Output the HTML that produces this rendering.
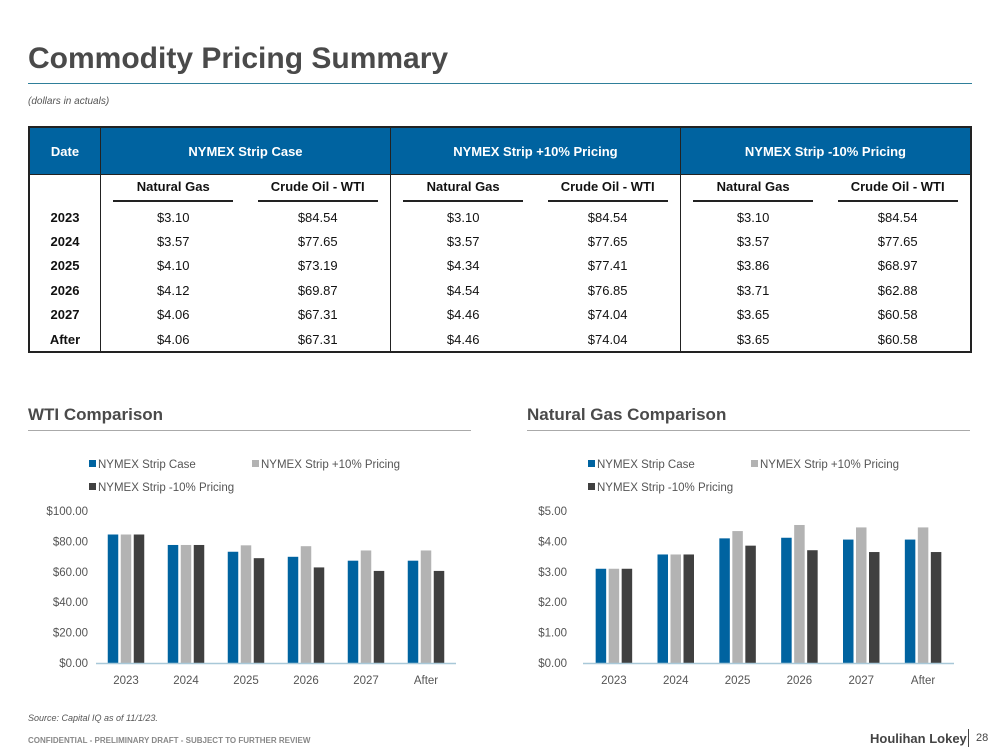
<!DOCTYPE html>
<html><head><meta charset="utf-8"><style>
body{margin:0;width:999px;height:750px;background:#fff;font-family:"Liberation Sans",sans-serif;position:relative;overflow:hidden}
.abs{position:absolute}
table{border-collapse:collapse;position:absolute;left:28px;top:126px;width:944px;font-size:13px}
th{background:#0063a0;color:#fff;font-weight:bold;height:44px;border:1px solid #222;font-size:13px}
td{text-align:center;height:24.4px;padding:0;font-family:"Liberation Sans",sans-serif;font-size:13px;color:#111}
td.y{font-weight:bold}
.sub td{font-family:"Liberation Sans",sans-serif;font-weight:bold;height:30px;font-size:13px}
.sub span{display:inline-block;width:120px;border-bottom:2px solid #222;padding-bottom:6px}
.bl{border-left:1px solid #222}
</style></head><body>
<div class="abs" style="left:28px;top:42px;font-size:30px;font-weight:bold;color:#4a4a4a">Commodity Pricing Summary</div>
<div class="abs" style="left:28px;top:83px;width:944px;height:1px;background:#2f7f9a"></div>
<div class="abs" style="left:28px;top:96px;font-size:10px;font-style:italic;color:#555">(dollars in actuals)</div>
<table style="border:2px solid #222">
<tr><th style="width:68px">Date</th><th colspan="2">NYMEX Strip Case</th><th colspan="2">NYMEX Strip +10% Pricing</th><th colspan="2">NYMEX Strip -10% Pricing</th></tr>
<tr class="sub"><td></td><td class="bl"><span>Natural Gas</span></td><td><span>Crude Oil - WTI</span></td><td class="bl"><span>Natural Gas</span></td><td><span>Crude Oil - WTI</span></td><td class="bl"><span>Natural Gas</span></td><td><span>Crude Oil - WTI</span></td></tr>
<tr><td class="y">2023</td><td class="bl">$3.10</td><td>$84.54</td><td class="bl">$3.10</td><td>$84.54</td><td class="bl">$3.10</td><td>$84.54</td></tr>
<tr><td class="y">2024</td><td class="bl">$3.57</td><td>$77.65</td><td class="bl">$3.57</td><td>$77.65</td><td class="bl">$3.57</td><td>$77.65</td></tr>
<tr><td class="y">2025</td><td class="bl">$4.10</td><td>$73.19</td><td class="bl">$4.34</td><td>$77.41</td><td class="bl">$3.86</td><td>$68.97</td></tr>
<tr><td class="y">2026</td><td class="bl">$4.12</td><td>$69.87</td><td class="bl">$4.54</td><td>$76.85</td><td class="bl">$3.71</td><td>$62.88</td></tr>
<tr><td class="y">2027</td><td class="bl">$4.06</td><td>$67.31</td><td class="bl">$4.46</td><td>$74.04</td><td class="bl">$3.65</td><td>$60.58</td></tr>
<tr><td class="y">After</td><td class="bl">$4.06</td><td>$67.31</td><td class="bl">$4.46</td><td>$74.04</td><td class="bl">$3.65</td><td>$60.58</td></tr>
</table>
<div class="abs" style="left:28px;top:405px;font-size:17px;font-weight:bold;color:#4a4a4a">WTI Comparison</div>
<div class="abs" style="left:28px;top:430px;width:443px;height:1px;background:#aaa"></div>
<div class="abs" style="left:527px;top:405px;font-size:17px;font-weight:bold;color:#4a4a4a">Natural Gas Comparison</div>
<div class="abs" style="left:527px;top:430px;width:443px;height:1px;background:#aaa"></div>
<svg id="ch" class="abs" style="left:0;top:0" width="999" height="750"></svg>
<div class="abs" style="left:28px;top:713px;font-size:9px;font-style:italic;color:#555">Source: Capital IQ as of 11/1/23.</div>
<div class="abs" style="left:28px;top:736px;font-size:8px;font-weight:bold;color:#888">CONFIDENTIAL - PRELIMINARY DRAFT - SUBJECT TO FURTHER REVIEW</div>
<div class="abs" style="left:870px;top:731px;font-size:13px;font-weight:bold;color:#444">Houlihan Lokey</div>
<div class="abs" style="left:968px;top:729px;width:1px;height:18px;background:#444"></div>
<div class="abs" style="left:976px;top:732px;font-size:11px;color:#444">28</div>
<script>
const categories=["2023","2024","2025","2026","2027","After"];
const seriesNames=["NYMEX Strip Case","NYMEX Strip +10% Pricing","NYMEX Strip -10% Pricing"];
const wtiBase=[84.54,77.65,73.19,69.87,67.31,67.31];
const wtiUp=[84.54,77.65,77.41,76.85,74.04,74.04];
const wtiDown=[84.54,77.65,68.97,62.88,60.58,60.58];
const gasBase=[3.10,3.57,4.10,4.12,4.06,4.06];
const gasUp=[3.10,3.57,4.34,4.54,4.46,4.46];
const gasDown=[3.10,3.57,3.86,3.71,3.65,3.65];
const wtiTicks=[0,20,40,60,80,100];
const gasTicks=[0,1,2,3,4,5];
const colors=["#0063a0","#b3b3b3","#404040"];
const svg=document.getElementById('ch');
const NS="http://www.w3.org/2000/svg";
function mk(t,a){const e=document.createElementNS(NS,t);for(const k in a)e.setAttribute(k,a[k]);svg.appendChild(e);return e;}
function chart(prefix,x0,x1,max,ticks,series,legX,labX){
  const y0=663,y1=511;
  const Y=v=>y0-(v/max)*(y0-y1);
  const step=(x1-x0)/categories.length;
  const X=i=>x0+step*(i+0.5);
  ticks.forEach(t=>{
    const tx=mk('text',{x:labX,y:Y(t)+4,'text-anchor':'end','font-size':'11.5',fill:'#555','font-family':'Liberation Sans, sans-serif'});
    tx.textContent='$'+t.toFixed(2);
    
    
  });
  const bw=10.5,gap=2.5;
  series.forEach((s,si)=>{
    s.forEach((v,i)=>{
      const cx=X(i)+(si-1)*(bw+gap);
      const r=mk('rect',{x:cx-bw/2,y:Y(v),width:bw,height:y0-Y(v),fill:colors[si]});
      
      
    });
  });
  const ax=mk('line',{x1:x0,x2:x1,y1:y0+0.5,y2:y0+0.5,stroke:'#a8c8d8','stroke-width':1.5});
  
  
  categories.forEach((c,i)=>{
    const t=mk('text',{x:X(i),y:y0+21,'text-anchor':'middle','font-size':'11.5',fill:'#555','font-family':'Liberation Sans, sans-serif'});
    t.textContent=c;
    
    
  });
  const lx=[legX,legX+163,legX],ly=[464,464,487];
  seriesNames.forEach((n,si)=>{
    const r=mk('rect',{x:lx[si],y:ly[si]-4,width:7,height:7,fill:colors[si]});
    
    
    const t=mk('text',{x:lx[si]+9,y:ly[si]+4,'font-size':'11.5',fill:'#555','font-family':'Liberation Sans, sans-serif'});
    t.textContent=n;
    
    
  });
}
chart('wti',96,456,100,wtiTicks,[wtiBase,wtiUp,wtiDown],89,88);
chart('gas',583,954,5,gasTicks,[gasBase,gasUp,gasDown],588,567);
</script>
</body></html>
